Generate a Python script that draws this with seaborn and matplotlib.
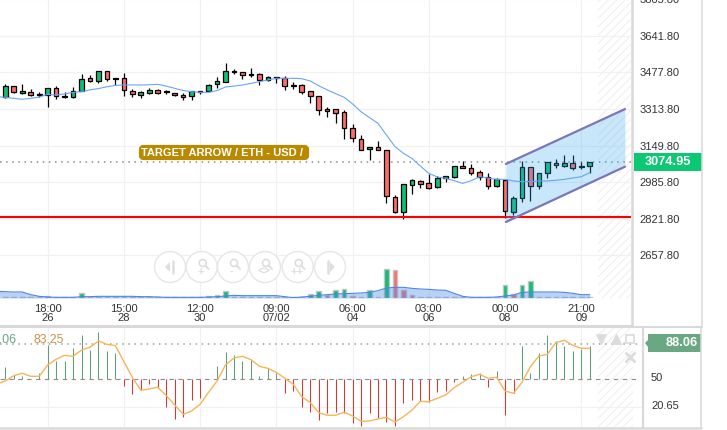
import numpy as np
import matplotlib
matplotlib.use("Agg")
import matplotlib.pyplot as plt
import seaborn as sns
from matplotlib.patches import Rectangle, FancyBboxPatch, Polygon, Circle

sns.set_theme(style="white")
plt.rcParams['font.family'] = ['Liberation Sans', 'DejaVu Sans']
plt.rcParams['hatch.linewidth'] = 0.8

# candles, one per bar
opens = [3366, 3416, 3387, 3388, 3379, 3376, 3406, 3370, 3366, 3393, 3451, 3440, 3482, 3452,
         3451, 3394, 3378, 3387, 3397, 3394, 3387, 3375, 3370, 3393, 3396, 3424, 3436, 3484,
         3478, 3470, 3469, 3442, 3455, 3451, 3421, 3419, 3393, 3370, 3312, 3312, 3298, 3227,
         3178, 3133, 3142, 3128, 2919, 2850, 2971, 2989, 2980, 2962, 3003, 3010, 3056, 3047,
         3030, 3009, 2970, 2997, 2853, 2913, 3052, 2970, 3025, 3070, 3059, 3070, 3056, 3056]
highs = [3424, 3416, 3425, 3402, 3391, 3406, 3415, 3388, 3411, 3470, 3464, 3485, 3482, 3452,
         3473, 3402, 3393, 3406, 3402, 3399, 3387, 3387, 3396, 3396, 3424, 3455, 3518, 3493,
         3481, 3496, 3473, 3460, 3455, 3460, 3433, 3427, 3393, 3370, 3324, 3312, 3310, 3245,
         3196, 3142, 3169, 3128, 2927, 2976, 2998, 2994, 3022, 3015, 3012, 3056, 3079, 3068,
         3040, 3025, 3003, 2997, 2924, 3082, 3052, 3025, 3074, 3088, 3106, 3106, 3075, 3075]
lows = [3364, 3387, 3382, 3373, 3367, 3324, 3360, 3364, 3364, 3393, 3434, 3431, 3440, 3421,
        3373, 3369, 3363, 3381, 3382, 3381, 3373, 3355, 3354, 3382, 3394, 3409, 3433, 3472,
        3449, 3458, 3422, 3437, 3431, 3400, 3405, 3382, 3342, 3288, 3279, 3252, 3181, 3167,
        3128, 3085, 3128, 2894, 2846, 2822, 2934, 2961, 2953, 2961, 2988, 3006, 3047, 3016,
        2994, 2956, 2962, 2823, 2838, 2898, 2903, 2953, 3003, 3047, 3052, 3039, 3046, 3025]
closes = [3416, 3391, 3393, 3375, 3375, 3406, 3370, 3366, 3393, 3446, 3440, 3482, 3449, 3449,
          3397, 3379, 3388, 3399, 3387, 3388, 3375, 3369, 3393, 3388, 3419, 3437, 3482, 3478,
          3467, 3467, 3442, 3455, 3452, 3415, 3416, 3391, 3370, 3307, 3306, 3297, 3227, 3182,
          3128, 3142, 3128, 2922, 2850, 2976, 2994, 2979, 2961, 3003, 3012, 3056, 3047, 3028,
          3010, 2970, 2998, 2855, 2913, 3052, 2970, 3025, 3074, 3061, 3070, 3050, 3052, 3074.95]

# moving average, starts one bar before the first candle
price_ma = [3368, 3366, 3361, 3357, 3361, 3367, 3379, 3376, 3381, 3388, 3391, 3399, 3405, 3413,
            3419, 3421, 3421, 3421, 3422, 3424, 3416, 3406, 3396, 3391, 3388, 3388, 3396, 3412,
            3416, 3421, 3428, 3436, 3443, 3451, 3451, 3451, 3449, 3439, 3418, 3399, 3382, 3366,
            3336, 3301, 3275, 3249, 3197, 3145, 3115, 3092, 3058, 3025, 3009, 3003, 2992, 2980,
            2992, 3010, 3004, 2998, 2998, 2991, 2988, 2988, 2991, 2991, 2994, 2998, 3004, 3010,
            3028]

volume = [2, 2, 2, 2, 2, 6, 2, 2, 2, 15, 2, 2, 2, 2, 2, 2, 2, 2, 2, 2, 2, 2, 2, 2, 6, 10, 20, 3, 3,
          2, 2, 2, 2, 2, 2, 2, 12, 20, 8, 23, 27, 5, 2, 25, 2, 88, 85, 25, 10, 2, 2, 2, 2, 2, 2, 2,
          2, 2, 2, 40, 12, 40, 52, 3, 2, 2, 2, 2, 2, 2]
volume_red = [27, 28, 38, 41, 46, 47, 48, 60]
volume_ma = [20, 19, 18, 18, 10, 5, 3, 2, 2, 2, 4, 4, 5, 5, 5, 5, 5, 4, 4, 3, 2, 2, 2, 2, 2, 3, 4,
             6, 8, 7, 7, 7, 7, 7, 4, 1, 3, 5, 8, 10, 12, 13, 14, 15, 17, 22, 30, 32, 32, 29, 27, 26,
             24, 23, 14, 5, 2, 2, 2, 3, 6, 9, 17, 18, 18, 18, 18, 17, 14, 10, 10]

# lower pane
osc_sticks = [62.8, 54.6, 53.9, 50, 56.4, 86.7, 69.9, 69.6, 83.1, 97.3, 81.3, 100.2, 79.9, 77.8,
              43.2, 34, 38.6, 44.7, 41.1, 20.1, 8, 10.1, 28.3, 29.7, 50, 63.9, 78.8, 76, 69.6, 70.6,
              53.6, 61.7, 57.1, 35, 37.9, 20.8, 14.8, 6.2, 13.7, 15.5, 13.7, 3, 0.2, 13.7, 9, 4,
              0.2, 24.4, 27.6, 26.9, 26.1, 36.1, 37.9, 47.5, 53.6, 55.3, 56.4, 42.2, 58.9, 11.6,
              35, 86, 56.4, 77.8, 97.3, 90.9, 86, 80.3, 82.4, 86]
osc_line = [45, 48.2, 53.9, 56.4, 53.2, 53.2, 65.3, 71.4, 75.6, 74.6, 81.3, 84.2, 90.9, 87.4, 86,
            68.9, 52.1, 38.3, 39.7, 41.5, 32.6, 22.6, 12.6, 16.2, 23.3, 36.1, 48.2, 65.3, 72.8,
            74.6, 71, 63.9, 61.7, 57.5, 51.1, 44.7, 31.5, 25.1, 14.4, 11.6, 11.6, 14.8, 10.8, 5.1,
            5.5, 7.6, 9.4, 4.4, 10.1, 16.9, 26.5, 26.1, 29.7, 33.3, 41.1, 46.8, 52.8, 55.3, 51.1,
            52.1, 37.5, 35, 46.8, 63.5, 74.9, 76.7, 89.2, 91.7, 86.3, 83.1, 83.1]

price_ticks = [2657.8, 2821.8, 2985.8, 3149.8, 3313.8, 3477.8, 3641.8, 3805.8]
time_ticks = [5, 14, 23, 32, 41, 50, 59, 68]
time_labels = ["18:00\n26", "15:00\n28", "12:00\n30", "09:00\n07/02", "06:00\n04", "03:00\n06",
               "00:00\n08", "21:00\n09"]
support_level = 2830
last_price = 3074.95
channel_x = [59.1, 73.16]
channel_top = [3067, 3313]
channel_bottom = [2807, 3055]

W, H = 727, 430
GREEN, RED = "#0fbf75", "#ff6b6b"
GRID = "#f1f1f1"
FRAME = "#d9d9d9"
HATCH = "#f0f0f0"


def pane(left, top, right, bottom):
    ax = fig.add_axes([left / W, 1 - bottom / H, (right - left) / W, (bottom - top) / H])
    ax.patch.set_alpha(0)
    ax.set_xlim((left - 5.3) / 8.47, (right - 5.3) / 8.47)
    return ax


def price_at(y):
    return 2657.8 + (255.3 - y) * 4.481


fig = plt.figure(figsize=(W / 100, H / 100), dpi=100, facecolor="white")
idx = np.arange(len(opens))
line_idx = np.arange(-1, len(opens))
hatch_start = (598 - 5.3) / 8.47

# price pane
ax = pane(0, -10, 631, 298)
ax.set_ylim(price_at(298), price_at(-10))
ax.add_patch(Rectangle((hatch_start, price_at(298)), ax.get_xlim()[1] - hatch_start,
                       price_at(-10) - price_at(298), facecolor="none", edgecolor=HATCH,
                       hatch="////", lw=0, zorder=0))
ax.grid(True, color=GRID, lw=0.9)
ax.set_axisbelow(True)
ax.set_yticks(price_ticks, [f"{p:.2f}" for p in price_ticks])
ax.set_xticks(time_ticks, time_labels)
ax.yaxis.tick_right()
ax.tick_params(axis="y", length=0, pad=6, labelsize=8, labelcolor="#333333")
ax.tick_params(axis="x", length=0, pad=4, labelsize=8, labelcolor="#333333")
for lab in ax.get_xticklabels():
    lab.set_linespacing(0.95)
sns.despine(ax=ax, left=True, bottom=True, right=True, top=True)

colors = [GREEN if c >= o else RED for o, c in zip(opens, closes)]
ax.vlines(idx, lows, highs, color="black", lw=0.9, zorder=3)
ax.bar(idx, np.abs(np.array(closes) - np.array(opens)), bottom=np.minimum(opens, closes), width=0.55,
       color=colors, edgecolor="black", lw=0.9, zorder=4)
sns.lineplot(x=line_idx, y=price_ma, ax=ax, color="#6aa5f5", lw=0.8, zorder=5)
ax.set_xlabel("")
ax.set_ylabel("")
ax.axhline(last_price, color="#8c8c8c", lw=1.1, ls=(0, (1, 3)), zorder=2)
ax.axhline(support_level, color="#fb0000", lw=1.5, zorder=6)
ax.fill_between(channel_x, channel_bottom, channel_top, color="#40aaf0", alpha=0.28, lw=0, zorder=7)
ax.plot(channel_x, channel_top, color="#7a77b8", lw=1.6, zorder=8)
ax.plot(channel_x, channel_bottom, color="#7a77b8", lw=1.6, zorder=8)

# volume, same rectangle as the price pane
ax_vol = pane(0, -10, 631, 298)
ax_vol.set_ylim(0, 924)
ax_vol.axis("off")
vol_colors = [RED if i in volume_red else GREEN for i in idx]
ax_vol.bar(idx, volume, width=0.55, color=vol_colors, edgecolor="#c4c4c4", lw=1)
ax_vol.fill_between(line_idx, 0, volume_ma, color="#4a86e8", alpha=0.38, lw=0, zorder=3)
sns.lineplot(x=line_idx, y=volume_ma, ax=ax_vol, color="#4a86e8", lw=0.8, zorder=4)

# lower pane
ax2 = pane(0, 327, 643, 427)
ax2.set_ylim(50 - (427 - 379.3) / 0.936, 50 + (379.3 - 327) / 0.936)
ax2.add_patch(Rectangle((hatch_start, ax2.get_ylim()[0]), (633 - 598) / 8.47,
                        ax2.get_ylim()[1] - ax2.get_ylim()[0], facecolor="none", edgecolor=HATCH,
                        hatch="////", lw=0, zorder=0))
ax2.set_xticks(time_ticks, [""] * len(time_ticks))
ax2.set_yticks([20.65], [""])
ax2.grid(True, color=GRID, lw=0.9)
ax2.set_axisbelow(True)
ax2.tick_params(length=0)
sns.despine(ax=ax2, left=True, bottom=True, right=True, top=True)
stick_colors = ["#5f9e78" if v >= 50 else "#e23232" for v in osc_sticks]
ax2.vlines(idx, 50, osc_sticks, colors=stick_colors, lw=0.75, zorder=2)
ax2.plot([ax2.get_xlim()[0], 74.9], [50, 50], color="#8c8c8c", lw=0.8, ls=(0, (4, 4)), zorder=3)
ax2.plot([ax2.get_xlim()[0], 74.9], [88.06, 88.06], color="#a0a0a0", lw=1.1, ls=(0, (1, 3)), zorder=3)
sns.lineplot(x=line_idx, y=osc_line, ax=ax2, color="#f7b55a", lw=1, zorder=4)
ax2.set_xlabel("")
ax2.set_ylabel("")

# page furniture in pixel coordinates
ui = fig.add_axes([0, 0, 1, 1], zorder=10)
ui.set_xlim(0, W)
ui.set_ylim(H, 0)
ui.axis("off")
ui.patch.set_alpha(0)
ui.plot([0, 632], [326, 326], color=FRAME, lw=2.2)
ui.plot([632, 632], [0, 326], color=FRAME, lw=1.8)
ui.plot([702, 702], [0, 327], color=FRAME, lw=1.1)
ui.plot([632, 702], [327, 327], color=FRAME, lw=1.1)
ui.plot([0, 701], [327, 327], color=FRAME, lw=1.4)
ui.plot([0, 701], [428, 428], color=FRAME, lw=1.8)
ui.plot([643, 643], [327, 428], color=FRAME, lw=1.6)
ui.plot([701, 701], [327, 428], color=FRAME, lw=1.1)

ui.add_patch(FancyBboxPatch((141, 147), 166, 11, boxstyle="round,pad=0,rounding_size=2.5",
                            mutation_aspect=1, fc="#b98a00", ec="#b98a00", lw=3))
ui.text(141, 152.5, "TARGET ARROW / ETH - USD /", color="white", fontsize=8, fontweight="bold",
        va="center", ha="left")
ui.add_patch(Rectangle((634, 153), 68, 18, fc="#0cc873", ec="none"))
ui.text(668, 162, "3074.95", color="white", fontsize=9.2, fontweight="bold", va="center", ha="center")
ui.add_patch(Polygon([(645, 343), (648, 340), (648, 334), (701, 334), (701, 352), (648, 352), (648, 347)],
                     fc="#6aa884", ec="none"))
ui.text(698, 343.5, "88.06", color="white", fontsize=9.2, fontweight="bold", va="center", ha="right")
ui.text(651, 378, "50", color="#333333", fontsize=8, va="center")
ui.text(651, 406, "20.65", color="#333333", fontsize=8, va="center")
ui.text(17, 340, "88.06", color="#6aa884", fontsize=9, va="center", ha="right")
ui.text(33, 340, "83.25", color="#c8924a", fontsize=8.8, va="center", ha="left")

# zoom buttons
for cx in [170, 201.7, 233, 265, 297.7, 330]:
    ui.add_patch(Circle((cx, 267), 15.5, fc="white", ec="#e6e6e6", lw=1))
ICON = "#dedede"
ui.add_patch(Polygon([(165, 267), (170, 262), (170, 272)], fc=ICON, ec="none"))
ui.plot([172.5, 172.5], [261, 273], color=ICON, lw=1.8)
ui.add_patch(Polygon([(335, 267), (330, 262), (330, 272)], fc=ICON, ec="none"))
ui.plot([327.5, 327.5], [261, 273], color=ICON, lw=1.8)
for cx, cap in [(201.7, "+"), (233, "-"), (265, "<>"), (297.7, "++")]:
    ui.add_patch(Circle((cx + 1, 263), 3.5, fc="none", ec=ICON, lw=1.2))
    ui.plot([cx + 3.5, cx + 7], [265.5, 269], color=ICON, lw=1.4)
    ui.text(cx - 1, 272, cap, color=ICON, fontsize=8, fontweight="bold", ha="center", va="center")

# pane controls in the lower right
ui.scatter([601], [339], marker="v", s=45, color="#dcdcdc")
ui.scatter([616], [339], marker="^", s=45, color="#dcdcdc")
ui.add_patch(Rectangle((626, 335), 8, 8, fc="white", ec="#dcdcdc", lw=1.2))
ui.scatter([630], [357], marker="x", s=50, color="#dcdcdc", lw=2)

fig.savefig("out.png", dpi=100)
